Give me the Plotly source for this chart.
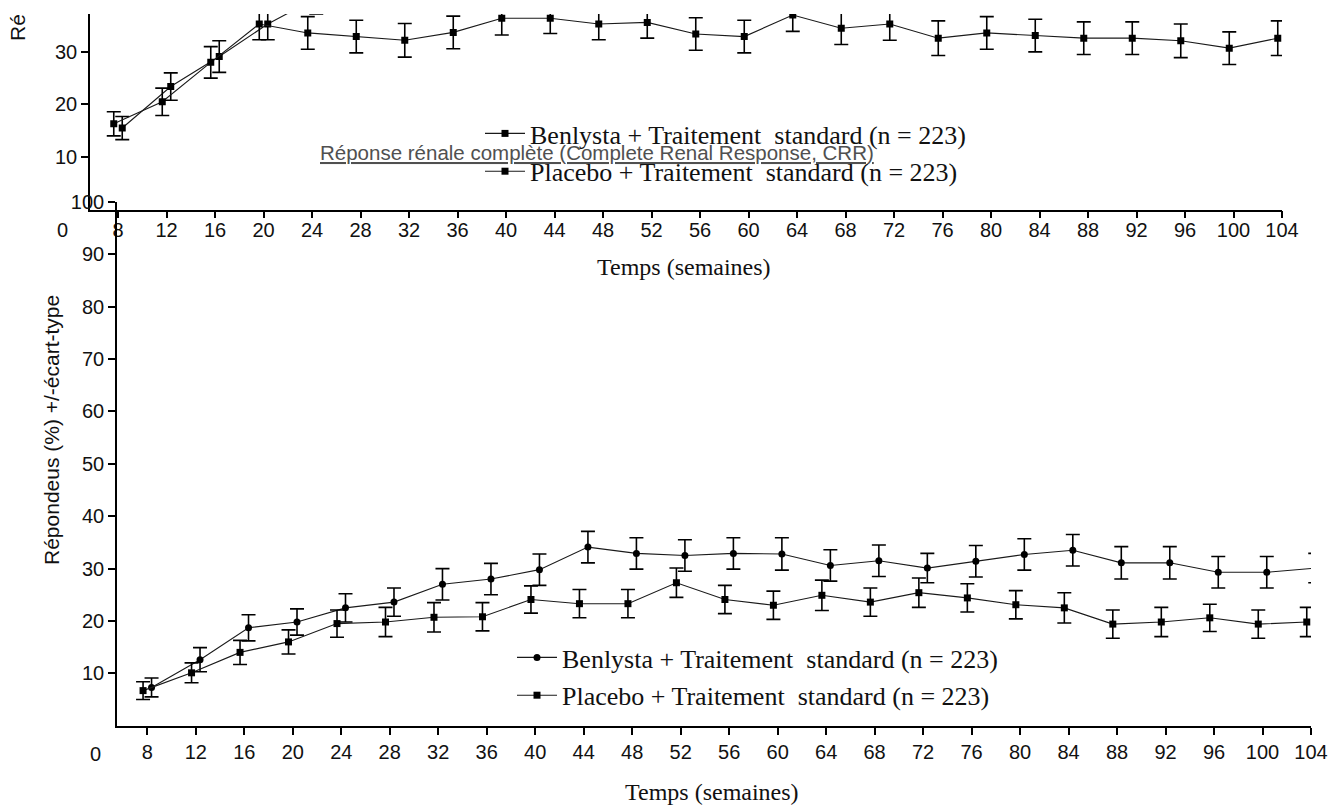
import plotly.graph_objects as go

W, H = 1342, 807

weeks = [8, 12, 16, 20, 24, 28, 32, 36, 40, 44, 48, 52, 56, 60, 64, 68, 72, 76, 80, 84, 88, 92, 96, 100, 104]
tick_labels = [str(w) for w in weeks]

# Upper chart (partly cropped in the source image)
top_benlysta = [15.5, 23.4, 29.1, 35.3, 40.2, 42.0, 43.0, 44.0, 45.0, 46.0, 46.0, 47.0, 46.0,
                46.0, 47.0, 46.0, 45.0, 46.0, 45.0, 45.0, 44.0, 44.0, 44.0, 43.0, 43.0]
top_benlysta_err = [2.2, 2.6, 3.0, 3.0, 3.0, 3.2, 3.2, 3.3, 3.3, 3.3, 3.3, 3.3, 3.3,
                    3.3, 3.3, 3.3, 3.3, 3.3, 3.3, 3.3, 3.3, 3.3, 3.3, 3.3, 3.3]
top_placebo = [16.3, 20.5, 28.0, 35.3, 33.6, 32.9, 32.2, 33.7, 36.4, 36.4, 35.3, 35.6, 33.4,
               32.9, 37.0, 34.5, 35.3, 32.6, 33.6, 33.1, 32.6, 32.6, 32.1, 30.7, 32.6]
top_placebo_err = [2.3, 2.6, 3.0, 3.0, 3.1, 3.1, 3.2, 3.1, 3.2, 2.9, 3.0, 3.0, 3.1,
                   3.1, 3.1, 3.1, 3.1, 3.3, 3.1, 3.1, 3.1, 3.1, 3.2, 3.1, 3.3]

# Lower chart
low_benlysta = [7.3, 12.6, 18.7, 19.8, 22.5, 23.6, 27.0, 28.0, 29.8, 34.1, 32.9, 32.5, 32.9,
                32.8, 30.6, 31.5, 30.1, 31.4, 32.7, 33.5, 31.1, 31.1, 29.3, 29.3, 30.1]
low_benlysta_err = [1.8, 2.3, 2.5, 2.5, 2.7, 2.7, 3.0, 3.0, 3.0, 3.0, 3.0, 3.0, 3.0,
                    3.1, 3.0, 3.0, 2.8, 3.0, 3.0, 3.0, 3.1, 3.1, 3.0, 3.0, 2.8]
low_placebo = [6.7, 10.1, 14.0, 16.0, 19.5, 19.8, 20.7, 20.8, 24.1, 23.3, 23.3, 27.3, 24.1,
               23.0, 24.9, 23.6, 25.4, 24.4, 23.1, 22.5, 19.4, 19.8, 20.6, 19.4, 19.8]
low_placebo_err = [1.7, 1.9, 2.3, 2.3, 2.6, 2.8, 2.8, 2.7, 2.6, 2.7, 2.7, 2.8, 2.7,
                   2.7, 2.9, 2.7, 2.8, 2.7, 2.7, 2.9, 2.7, 2.8, 2.6, 2.7, 2.8]

name_benlysta = "Benlysta + Traitement  standard (n = 223)"
name_placebo = "Placebo + Traitement  standard (n = 223)"
x_title = "Temps (semaines)"
y_title = "Répondeus (%) +/-écart-type"
link_text = "Réponse rénale complète (Complete Renal Response, CRR)"

OFF = 0.35  # small horizontal dodge between the two groups


def px(x):
    return x / W


def py(y):
    return 1 - y / H


def series(x, y, err, name, symbol, xa, ya, legend, group, clip):
    return go.Scatter(
        x=x, y=y, name=name, mode="lines+markers",
        xaxis=xa, yaxis=ya, legend=legend, legendgroup=group, cliponaxis=clip,
        line=dict(color="#1a1a1a", width=1.1),
        marker=dict(symbol=symbol, size=7, color="black"),
        error_y=dict(type="data", array=err, visible=True, color="black", thickness=1.6, width=7),
    )


xb = [w + OFF for w in weeks]
xp = [w - OFF for w in weeks]

fig = go.Figure()
fig.add_trace(series(xb, top_benlysta, top_benlysta_err, name_benlysta, "square", "x", "y", "legend", "a", True))
fig.add_trace(series(xp, top_placebo, top_placebo_err, name_placebo, "square", "x", "y", "legend", "b", True))
fig.add_trace(series(xb, low_benlysta, low_benlysta_err, name_benlysta, "circle", "x2", "y2", "legend2", "c", False))
fig.add_trace(series(xp, low_placebo, low_placebo_err, name_placebo, "square", "x2", "y2", "legend2", "d", False))

tickfont = dict(family="Liberation Sans", size=20, color="#111")
axis_common = dict(showline=True, linecolor="black", linewidth=1.6, ticks="outside", ticklen=7,
                   tickwidth=1.6, tickcolor="black", showgrid=False, zeroline=False, tickfont=tickfont,
                   automargin=False)

legend_common = dict(font=dict(family="Liberation Serif", size=26, color="#111"),
                     bgcolor="rgba(0,0,0,0)", xanchor="left", yanchor="top",
                     traceorder="grouped", tracegroupgap=1, itemwidth=40)

fig.update_layout(
    width=W, height=H, margin=dict(l=0, r=0, t=0, b=0, autoexpand=False),
    paper_bgcolor="white", plot_bgcolor="rgba(0,0,0,0)", showlegend=True,
    xaxis=dict(domain=[px(90), px(1282)], range=[8 - 28 / 12.125, 104], anchor="y",
               tickvals=weeks, ticktext=tick_labels, ticklabelstandoff=-5, **axis_common),
    yaxis=dict(domain=[py(209.5), py(14)], range=[0, 37.2], anchor="x",
               tickvals=[10, 20, 30], ticktext=["10", "20", "30"], **axis_common),
    xaxis2=dict(domain=[px(117), px(1311)], range=[8 - 30.3 / 12.12, 104], anchor="y2",
                tickvals=weeks, ticktext=tick_labels, **axis_common),
    yaxis2=dict(domain=[py(725.7), py(202)], range=[0, 100], anchor="x2",
                tickvals=list(range(10, 101, 10)), ticktext=[str(v) for v in range(10, 101, 10)],
                **axis_common),
    legend=dict(x=px(480), y=py(110), **legend_common),
    legend2=dict(x=px(512), y=py(634), **legend_common),
)


def note(x, y, text, font, angle=0, xanchor="center"):
    fig.add_annotation(x=px(x), y=py(y), xref="paper", yref="paper", text=text, textangle=angle,
                       xanchor=xanchor, yanchor="middle", showarrow=False, font=font)


ann_serif = dict(family="Liberation Serif", size=24, color="#111")
note(684, 267, x_title, ann_serif)
note(712, 792, x_title, ann_serif)
note(51, 430, y_title, dict(family="Liberation Sans", size=21, color="#111"), angle=-90)
note(17, 28, "Ré", dict(family="Liberation Sans", size=21, color="#111"), angle=-90)
note(62, 230, "0", tickfont)
note(95, 754, "0", tickfont)
note(318, 152, '<span style="text-decoration:underline">' + link_text + "</span>",
     dict(family="Liberation Sans", size=20.5, color="#505050"), xanchor="left")

fig.write_html("out.html", config={"displayModeBar": False},
               post_script="document.body.style.margin='0';document.body.style.overflow='hidden';")
